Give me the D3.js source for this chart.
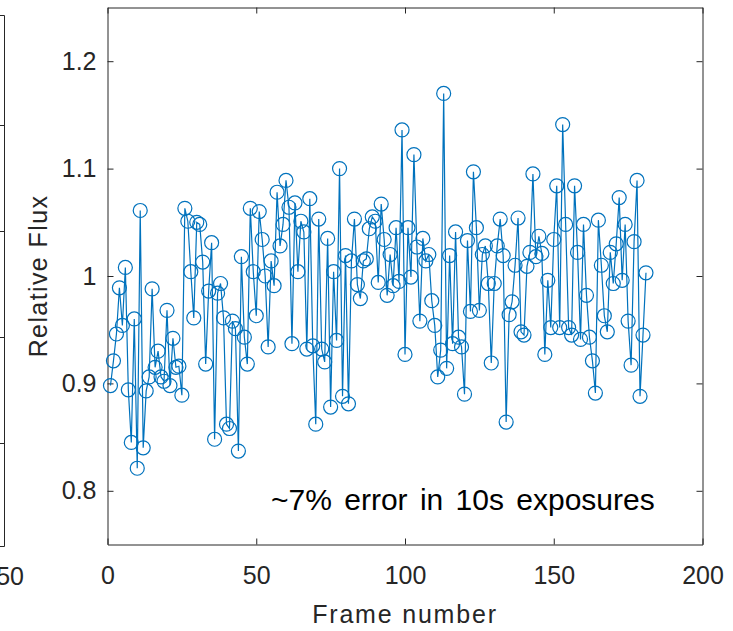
<!DOCTYPE html>
<html>
<head>
<meta charset="utf-8">
<script src="https://cdn.jsdelivr.net/npm/d3@7"></script>
<style>
  html, body { margin: 0; padding: 0; background: #fff; }
  svg { display: block; font-family: "Liberation Sans", Arial, Helvetica, sans-serif; }
</style>
</head>
<body>
<div id="chart"></div>
<script>
// relative flux per frame (frames 1..181)
const relFlux = [
  0.898, 0.921, 0.946, 0.989, 0.954, 1.008, 0.894, 0.845, 0.960, 0.821,
  1.061, 0.840, 0.893, 0.906, 0.988, 0.915, 0.930, 0.906, 0.902, 0.968,
  0.898, 0.942, 0.915, 0.916, 0.889, 1.063, 1.051, 1.004, 0.961, 1.050,
  1.048, 1.013, 0.918, 0.986, 1.031, 0.848, 0.984, 0.993, 0.961, 0.862,
  0.858, 0.958, 0.951, 0.837, 1.018, 0.943, 0.918, 1.063, 1.004, 0.963,
  1.060, 1.034, 1.000, 0.934, 1.014, 0.991, 1.078, 1.028, 1.048, 1.089,
  1.064, 0.937, 1.068, 1.004, 1.051, 1.041, 0.932, 1.072, 0.935, 0.862,
  1.053, 0.932, 0.920, 1.035, 0.878, 1.004, 0.940, 1.100, 0.888, 1.019,
  0.881, 1.014, 1.053, 0.992, 0.979, 1.014, 1.016, 1.044, 1.055, 1.051,
  0.994, 1.067, 1.034, 0.982, 1.020, 0.991, 1.045, 0.995, 1.136, 0.927,
  1.045, 0.999, 1.113, 1.027, 0.958, 1.035, 1.014, 1.020, 0.977, 0.954,
  0.906, 0.931, 1.170, 0.914, 1.019, 0.937, 1.041, 0.943, 0.934, 0.890,
  1.033, 0.967, 1.097, 1.045, 0.968, 1.020, 1.028, 0.993, 0.919, 0.993,
  1.028, 1.053, 1.019, 0.864, 0.964, 0.976, 1.010, 1.054, 0.948, 0.945,
  1.009, 1.022, 1.095, 1.018, 1.037, 1.021, 0.927, 0.996, 0.952, 1.034,
  1.084, 0.952, 1.141, 1.048, 0.952, 0.945, 1.084, 1.022, 0.941, 1.048,
  0.982, 0.943, 0.921, 0.891, 1.052, 1.010, 0.963, 0.948, 1.022, 0.993,
  1.030, 1.073, 0.996, 1.048, 0.958, 0.917, 1.032, 1.089, 0.888, 0.945,
  1.003
];

const xTicks = [0, 50, 100, 150, 200];
const yTicks = [0.8, 0.9, 1, 1.1, 1.2];
const xLabel = 'Frame number';
const yLabel = 'Relative Flux';
const note = '~7% error in 10s exposures';

// neighbouring panel that is cut off at the left edge
const leftPanelTicks = [1, 2, 3, 4];
const leftPanelTickLabel = '50';

const width = 733;
const height = 631;
const box = { left: 107.5, right: 702.5, top: 7.5, bottom: 544.5 };
const axisColor = '#262626';
const lineColor = '#0072BD';

const svg = d3.select('#chart')
  .append('svg')
  .attr('width', width)
  .attr('height', height);

const x = d3.scaleLinear().domain([0, 200]).range([box.left, box.right]);
const y = d3.scaleLinear().domain([0.75, 1.25]).range([box.bottom, box.top]);

function styleAxis(g, fontSize) {
  g.attr('font-family', null).attr('font-size', fontSize);
  g.select('.domain').attr('stroke', axisColor).attr('stroke-width', 1);
  g.selectAll('.tick line').attr('stroke', axisColor).attr('stroke-width', 1);
  g.selectAll('.tick text').attr('fill', axisColor);
}

// bottom / left axes with labels, ticks pointing inward (MATLAB style)
svg.append('g')
  .attr('transform', `translate(0,${box.bottom})`)
  .call(d3.axisBottom(x).tickValues(xTicks).tickSizeInner(-6).tickSizeOuter(0).tickPadding(22))
  .call(g => styleAxis(g, 25));

svg.append('g')
  .attr('transform', `translate(${box.left},0)`)
  .call(d3.axisLeft(y).tickValues(yTicks).tickFormat(d3.format('~g')).tickSizeInner(-6).tickSizeOuter(0).tickPadding(11))
  .call(g => styleAxis(g, 25));

// top / right box edges
svg.append('g')
  .attr('transform', `translate(0,${box.top})`)
  .call(d3.axisTop(x).tickValues(xTicks).tickFormat('').tickSizeInner(-6).tickSizeOuter(0))
  .call(g => styleAxis(g, 25));

svg.append('g')
  .attr('transform', `translate(${box.right},0)`)
  .call(d3.axisRight(y).tickValues(yTicks).tickFormat('').tickSizeInner(-6).tickSizeOuter(0))
  .call(g => styleAxis(g, 25));

// data
const line = d3.line()
  .x((d, i) => x(i + 1))
  .y(d => y(d));

svg.append('path')
  .datum(relFlux)
  .attr('d', line)
  .attr('fill', 'none')
  .attr('stroke', lineColor)
  .attr('stroke-width', 1.2);

svg.append('g')
  .selectAll('circle')
  .data(relFlux)
  .join('circle')
  .attr('cx', (d, i) => x(i + 1))
  .attr('cy', d => y(d))
  .attr('r', 7)
  .attr('fill', 'none')
  .attr('stroke', lineColor)
  .attr('stroke-width', 1.2);

// labels
svg.append('text')
  .attr('x', (box.left + box.right) / 2)
  .attr('y', 623)
  .attr('text-anchor', 'middle')
  .attr('font-size', 25)
  .attr('letter-spacing', 1.8)
  .attr('fill', axisColor)
  .text(xLabel);

svg.append('text')
  .attr('transform', `translate(47,${(box.top + box.bottom) / 2}) rotate(-90)`)
  .attr('text-anchor', 'middle')
  .attr('font-size', 25)
  .attr('letter-spacing', 1.4)
  .attr('fill', axisColor)
  .text(yLabel);

svg.append('text')
  .attr('x', 271)
  .attr('y', 510)
  .attr('font-size', 30)
  .attr('word-spacing', 4)
  .attr('fill', '#000')
  .text(note);

// cut-off neighbouring panel on the left
const leftY = d3.scaleLinear().domain([0, 5]).range([549, 19]);
svg.append('g')
  .attr('transform', 'translate(4.5,0)')
  .call(d3.axisRight(leftY).tickValues(leftPanelTicks).tickFormat('').tickSizeInner(-6).tickSizeOuter(0))
  .call(g => styleAxis(g, 25))
  .call(g => g.select('.domain').remove());

svg.append('path')
  .attr('d', 'M0,15.5H4.5V546.5H0')
  .attr('fill', 'none')
  .attr('stroke', axisColor)
  .attr('stroke-width', 1);

svg.append('text')
  .attr('x', 24)
  .attr('y', 585)
  .attr('text-anchor', 'end')
  .attr('font-size', 25)
  .attr('fill', axisColor)
  .text(leftPanelTickLabel);
</script>
</body>
</html>
